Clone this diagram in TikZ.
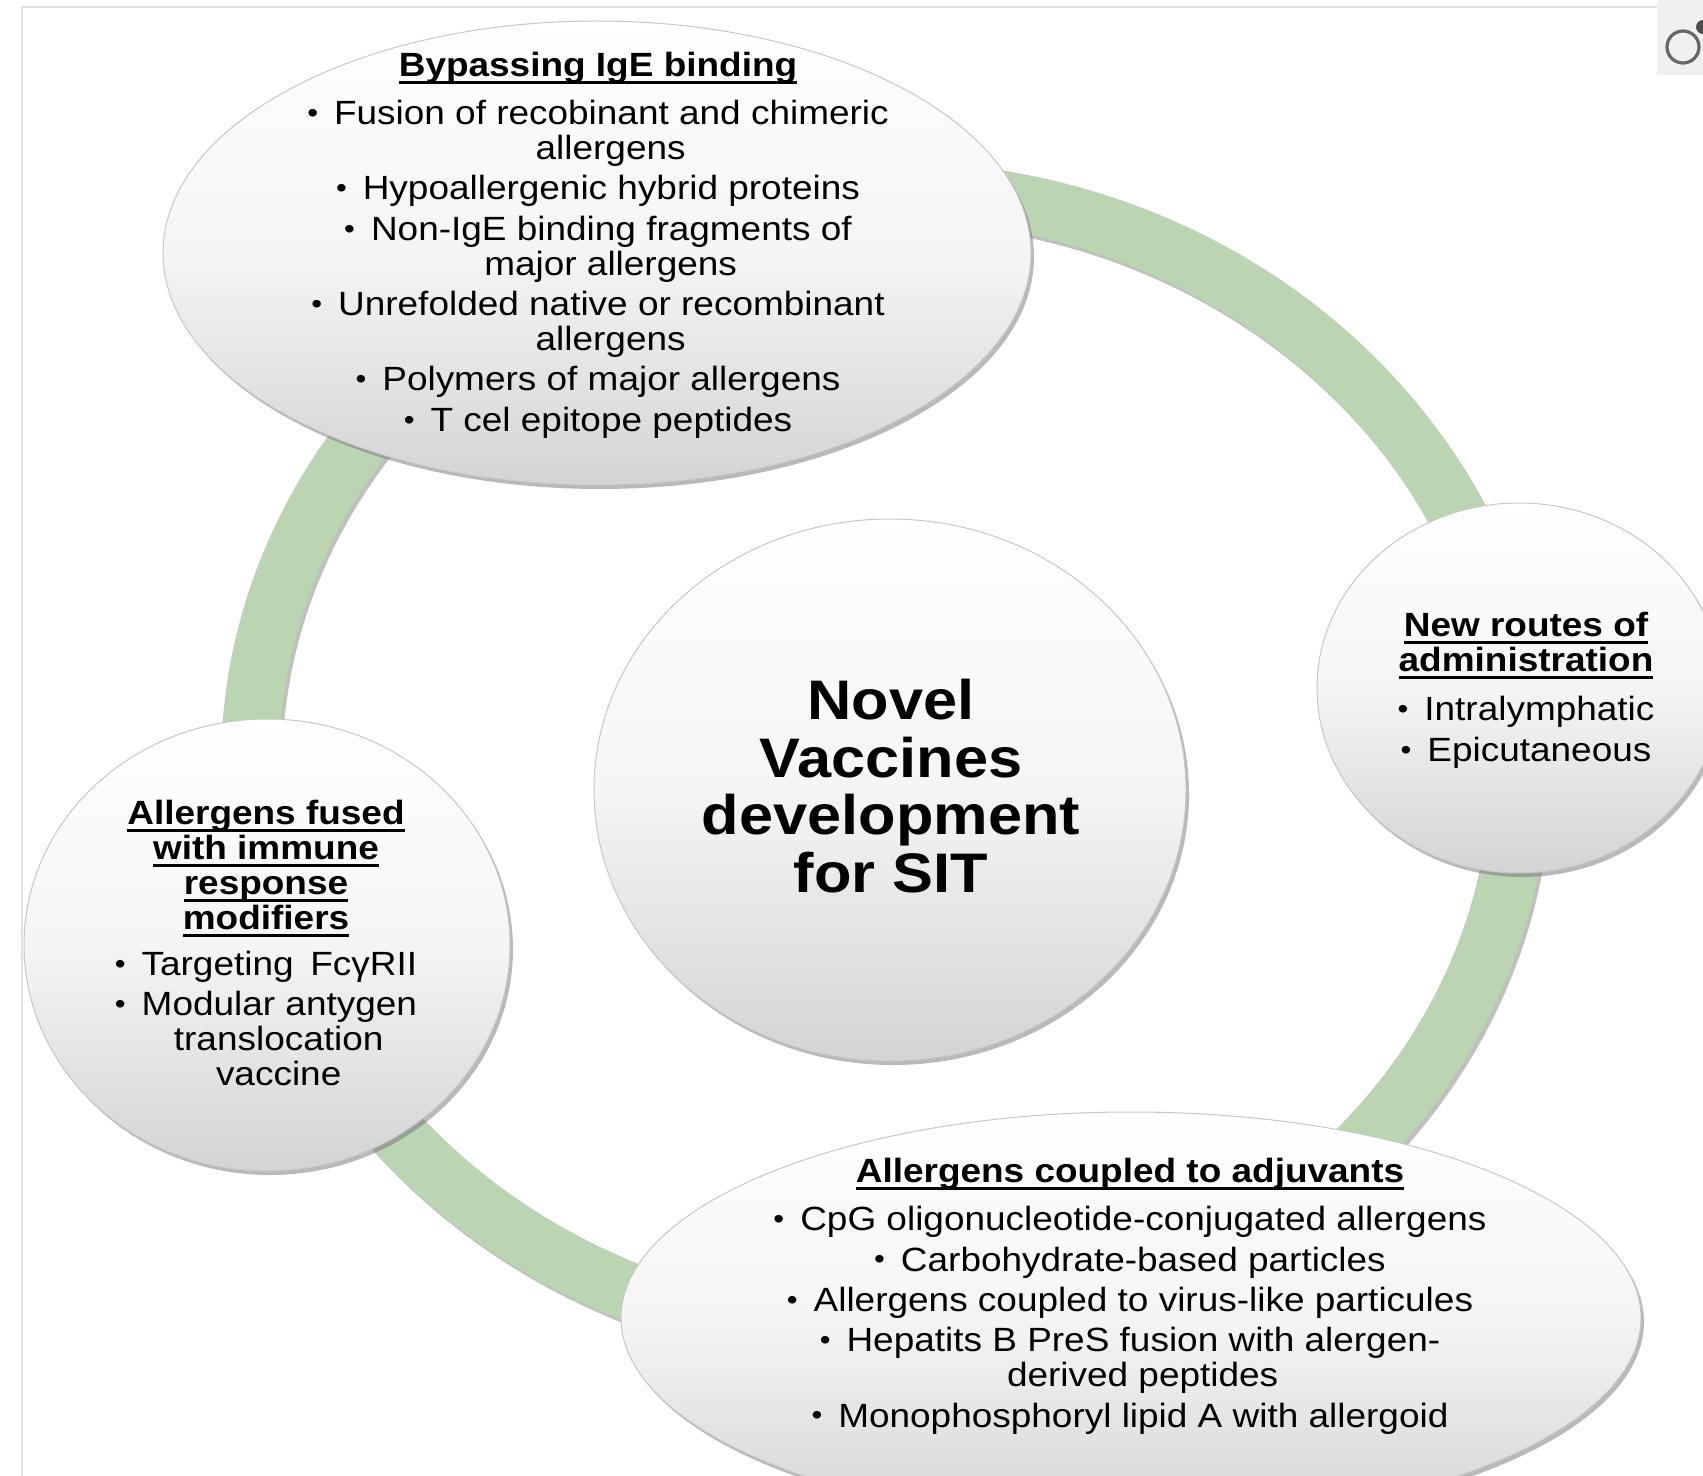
\documentclass[tikz,border=0pt]{standalone}
\usepackage{fontspec}
\newfontfamily\diagfont{Liberation Sans}[FakeStretch=1.1]
\usepackage{tikz}

\definecolor{ringgreen}{RGB}{187,213,178}

\newsavebox\hdbox
\newcommand{\hd}[1]{\sbox\hdbox{\bfseries #1}\rlap{\rule[-5.5pt]{\wd\hdbox}{1.9pt}}\usebox\hdbox}
\newcommand{\wl}{\hspace*{19pt}}
\newcommand{\bl}{\raisebox{1.6pt}{\fontsize{21}{21}\selectfont •}\hspace{12pt}}

\tikzset{every picture/.style={line width=0.75pt}}
\tikzset{
  ring/.style={draw=ringgreen, line width=43.5pt},
  ringshade/.style={draw=black!45, line width=43.5pt, opacity=.55},
  bubble/.style={draw=black!22, line width=0.75pt, top color=white, bottom color=black!17, middle color=white!96!black},
  bubshade/.style={fill=black!55, opacity=.5},
  txt/.style={align=center, inner sep=0pt, text=black, font=\diagfont\fontsize{25.2}{26.25}\selectfont},
  bigtxt/.style={align=center, inner sep=0pt, text=black, font=\diagfont\bfseries\fontsize{41.8}{43.1}\selectfont}
}

\begin{document}
\begin{tikzpicture}[x=0.75pt,y=0.75pt,yscale=-1,xscale=1]
\useasboundingbox (0,0) rectangle (1703,1476);
\clip (0,0) rectangle (1703,1476);

% Frame
\draw [color=black!12, line width=1.8pt] (22,1476) -- (22,7) -- (1657,7) ;
\fill [color=black!6] (1657,0) rectangle (1703,75) ;
\draw [color=black!60, line width=2.4pt] (1683,47) circle [radius=16] ;
\fill [color=black!70] (1703,27) circle [radius=7] ;

% Ring
\draw [ringshade] (888,769) ellipse [x radius=635, y radius=575] ;
\draw [ring] (885,765) ellipse [x radius=635, y radius=575] ;

% Shape: Ellipse
\fill [bubshade] (600,257) ellipse [x radius=434, y radius=232] ;
\draw [bubble] (597,253) ellipse [x radius=434, y radius=232] ;
% Shape: Ellipse
\fill [bubshade] (1522,692) ellipse [x radius=202, y radius=185] ;
\draw [bubble] (1519,688) ellipse [x radius=202, y radius=185] ;
% Shape: Ellipse
\fill [bubshade] (270,949) ellipse [x radius=243, y radius=226] ;
\draw [bubble] (267,945) ellipse [x radius=243, y radius=226] ;
% Shape: Ellipse
\fill [bubshade] (1134,1322) ellipse [x radius=510, y radius=206] ;
\draw [bubble] (1131,1318) ellipse [x radius=510, y radius=206] ;
% Shape: Ellipse
\fill [bubshade] (893,794) ellipse [x radius=296, y radius=271] ;
\draw [bubble] (890,790) ellipse [x radius=296, y radius=271] ;

% Text Node
\draw (598,245) node [txt] (bypass) {\hd{Bypassing IgE binding}\\[10pt]
\bl Fusion of recobinant and chimeric\\\wl allergens\\[4pt]
\bl Hypoallergenic hybrid proteins\\[4pt]
\bl Non-IgE binding fragments of\\\wl major allergens\\[4pt]
\bl Unrefolded native or recombinant\\\wl allergens\\[4pt]
\bl Polymers of major allergens\\[4pt]
\bl T cel epitope peptides};
% Text Node
\draw (1526,690) node [txt] (routes) {\hd{New routes of}\\\hd{administration}\\[11pt]
\bl Intralymphatic\\[4pt]
\bl Epicutaneous};
% Text Node
\draw (266,943) node [txt] (fused) {\hd{Allergens fused}\\\hd{with immune}\\\hd{response}\\\hd{modifiers}\\[8pt]
\bl Targeting\enspace FcγRII\\[4pt]
\bl Modular antygen\\\wl translocation\\\wl vaccine};
% Text Node
\draw (1130,1296) node [txt] (adjuv) {\hd{Allergens coupled to adjuvants}\\[10pt]
\bl CpG oligonucleotide-conjugated allergens\\[4pt]
\bl Carbohydrate-based particles\\[4pt]
\bl Allergens coupled to virus-like particules\\[4pt]
\bl Hepatits B PreS fusion with alergen-\\\wl derived peptides\\[4pt]
\bl Monophosphoryl lipid A with allergoid};
% Text Node
\draw (891,786) node [bigtxt] (novel) {Novel\\Vaccines\\development\\for SIT};

\end{tikzpicture}
\end{document}
